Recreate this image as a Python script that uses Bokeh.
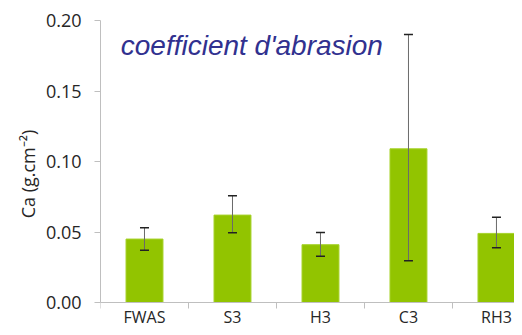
from bokeh.plotting import figure
from bokeh.models import Range1d, FixedTicker, Whisker, ColumnDataSource, Label, TeeHead, LinearAxis
from bokeh.embed import file_html
from bokeh.resources import INLINE

categories = ["FWAS", "S3", "H3", "C3", "RH3"]
values = [0.045, 0.062, 0.041, 0.109, 0.049]
err_upper = [0.053, 0.0757, 0.0496, 0.190, 0.0605]
err_lower = [0.037, 0.0494, 0.0328, 0.0296, 0.0388]
y_ticks = [0.0, 0.05, 0.10, 0.15, 0.20]
y_labels = ["0.00", "0.05", "0.10", "0.15", "0.20"]
title_text = "coefficient d'abrasion"
y_axis_label = "Ca (g.cm\u207b\u00b2)"

centers = [i + 0.5 for i in range(len(categories))]
bounds = [float(i) for i in range(len(categories) + 1)]

src = ColumnDataSource(dict(x=centers, top=values, upper=err_upper, lower=err_lower))

# frame: top at 20px, 0 at 302px (282px for 0.20), frame runs to the bottom edge (327px)
p = figure(width=514, height=327, output_backend="svg", toolbar_location=None,
           x_range=Range1d(0, 4.705), y_range=Range1d(-0.2 * 25 / 282, 0.2),
           min_border_left=100, min_border_right=0, min_border_top=20, min_border_bottom=0)
p.outline_line_color = None
p.xgrid.visible = False
p.ygrid.visible = False
p.background_fill_color = "white"
p.border_fill_color = "white"

p.vbar(x="x", top="top", width=0.42, bottom=0, source=src,
       fill_color="#92c400", line_color="#a6d22a", line_width=1)

w = Whisker(base="x", upper="upper", lower="lower", source=src, level="overlay",
            line_color="#6a6a6a", line_width=1,
            upper_head=TeeHead(size=9, line_color="#222222", line_width=1.5),
            lower_head=TeeHead(size=9, line_color="#222222", line_width=1.5))
p.add_layout(w)

axis_grey = "#bfbfbf"
font = "Open Sans"

# category boundary ticks
bx = LinearAxis(fixed_location=0, ticker=FixedTicker(ticks=bounds, minor_ticks=[]),
                major_label_overrides={b: "" for b in bounds},
                major_label_text_font_size="1px",
                major_tick_out=6, major_tick_in=0, major_tick_line_color=axis_grey,
                minor_tick_out=0, minor_tick_in=0, axis_line_color=axis_grey)
p.add_layout(bx, "below")

xa = p.xaxis[0]
xa.fixed_location = 0
xa.ticker = FixedTicker(ticks=centers, minor_ticks=[])
xa.major_label_overrides = {c: n for c, n in zip(centers, categories)}
xa.major_label_text_font = font
xa.major_label_text_font_size = "16px"
xa.major_label_text_color = "#262626"
xa.major_label_standoff = 3
xa.major_tick_out = 0
xa.major_tick_in = 0
xa.minor_tick_out = 0
xa.minor_tick_in = 0
xa.axis_line_color = axis_grey

ya = p.yaxis[0]
ya.bounds = (0, 0.2)
ya.ticker = FixedTicker(ticks=y_ticks, minor_ticks=[])
ya.major_label_overrides = {t: l for t, l in zip(y_ticks, y_labels)}
ya.major_tick_out = 6
ya.major_tick_in = 0
ya.major_tick_line_color = axis_grey
ya.axis_line_color = axis_grey
ya.major_label_standoff = 13
ya.major_label_text_font = font
ya.major_label_text_font_size = "18px"
ya.major_label_text_color = "#262626"
ya.axis_label = y_axis_label
ya.axis_label_text_font = font
ya.axis_label_text_font_size = "18px"
ya.axis_label_text_font_style = "normal"
ya.axis_label_text_color = "#262626"
ya.axis_label_standoff = 3

title = Label(x=0.23, y=0.1825, text=title_text, text_font="Liberation Sans",
              text_font_size="28px", text_font_style="italic", text_color="#31318f",
              text_baseline="alphabetic", text_align="left")
p.add_layout(title)

open("out.html", "w").write(file_html(p, INLINE))
